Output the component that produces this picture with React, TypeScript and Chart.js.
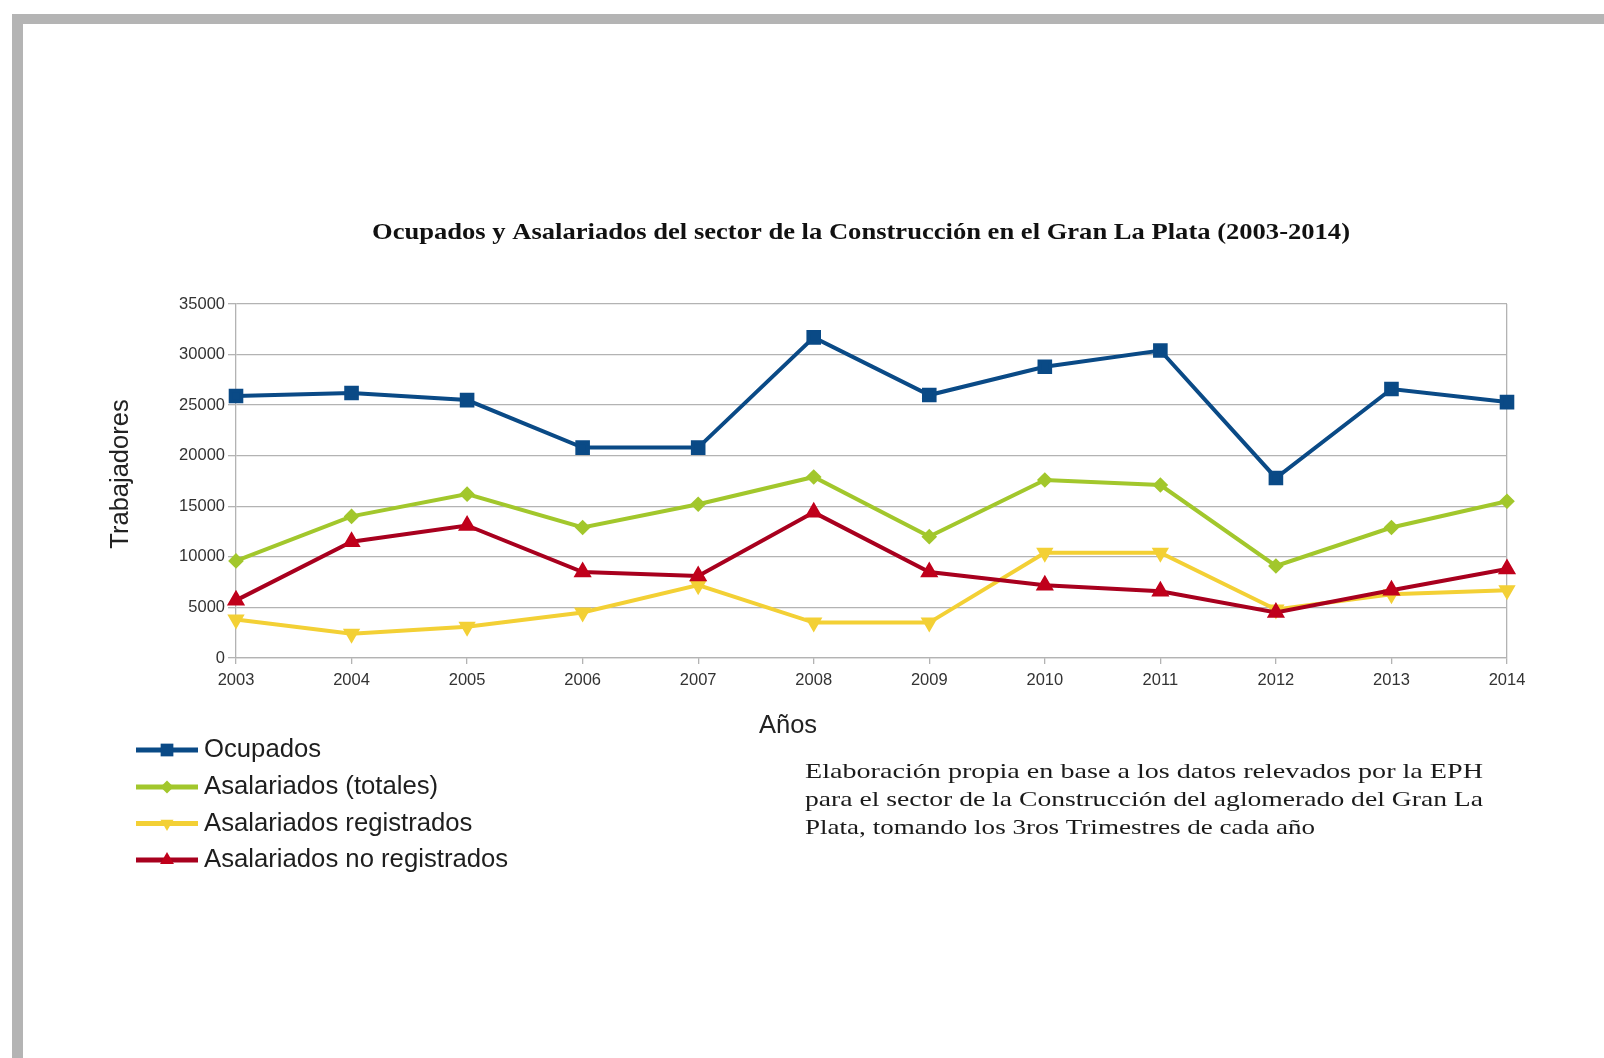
import { useEffect, useRef } from 'react';
import { Chart, registerables } from 'chart.js';

Chart.register(...registerables);

const years = ['2003', '2004', '2005', '2006', '2007', '2008', '2009', '2010', '2011', '2012', '2013', '2014'];
const ocupados = [25900, 26200, 25500, 20800, 20800, 31700, 26000, 28800, 30400, 17800, 26600, 25300];
const asalariadosTotales = [9600, 14000, 16200, 12900, 15200, 17900, 12000, 17600, 17100, 9100, 12900, 15500];
const asalariadosRegistrados = [3800, 2400, 3100, 4500, 7200, 3500, 3500, 10400, 10400, 4800, 6300, 6700];
const asalariadosNoRegistrados = [5700, 11500, 13100, 8500, 8100, 14400, 8500, 7200, 6600, 4500, 6700, 8800];
const seriesNames = ['Ocupados', 'Asalariados (totales)', 'Asalariados registrados', 'Asalariados no registrados'];
const yMin = 0;
const yMax = 35000;
const yStep = 5000;

const titleText = 'Ocupados y Asalariados del sector de la Construcción en el Gran La Plata (2003-2014)';
const xTitleText = 'Años';
const yTitleText = 'Trabajadores';
const noteLines = [
  'Elaboración propia en base a los datos relevados por la EPH',
  'para el sector de la Construcción del aglomerado del Gran La',
  'Plata, tomando los 3ros Trimestres de cada año',
];

const W = 1604;
const H = 1058;
const AREA = { left: 236, right: 1507, top: 304, bottom: 658 };
const Y_SCALE_W = 70;
const X_SCALE_H = 40;
const GRID = '#b3b3b3';
const TICK_FONT = { family: '"Liberation Sans", Arial, sans-serif', size: 16.5 };

function fitText(ctx: CanvasRenderingContext2D, text: string, x: number, y: number, width: number) {
  const w = ctx.measureText(text).width;
  const sx = width / w;
  ctx.save();
  ctx.translate(x, y);
  ctx.scale(sx, 1);
  ctx.textAlign = 'left';
  ctx.fillText(text, 0, 0);
  ctx.restore();
}

function drawMarker(ctx: CanvasRenderingContext2D, style: string, rot: number, x: number, y: number, r: number, color: string) {
  ctx.save();
  ctx.fillStyle = color;
  ctx.translate(x, y);
  ctx.rotate((rot * Math.PI) / 180);
  ctx.beginPath();
  if (style === 'rect') {
    const s = r * Math.SQRT1_2;
    ctx.rect(-s, -s, 2 * s, 2 * s);
  } else if (style === 'rectRot') {
    ctx.moveTo(0, -r);
    ctx.lineTo(r, 0);
    ctx.lineTo(0, r);
    ctx.lineTo(-r, 0);
    ctx.closePath();
  } else {
    ctx.moveTo(0, -r);
    ctx.lineTo(r * 0.866, r * 0.5);
    ctx.lineTo(-r * 0.866, r * 0.5);
    ctx.closePath();
  }
  ctx.fill();
  ctx.restore();
}

const decorPlugin = {
  id: 'decor',
  beforeDraw(chart: any) {
    const ctx = chart.ctx as CanvasRenderingContext2D;
    ctx.save();
    ctx.fillStyle = '#ffffff';
    ctx.fillRect(0, 0, W, H);
    ctx.fillStyle = '#b4b4b4';
    ctx.fillRect(12, 14, 11, H - 14);
    ctx.fillRect(12, 14, W - 12, 10);
    ctx.restore();
  },
  afterDraw(chart: any) {
    const ctx = chart.ctx as CanvasRenderingContext2D;
    ctx.save();
    // title
    ctx.fillStyle = '#111111';
    ctx.textBaseline = 'alphabetic';
    ctx.font = 'bold 24px "Liberation Serif", "Times New Roman", serif';
    fitText(ctx, titleText, 372, 239, 978);

    // axis titles
    ctx.fillStyle = '#222222';
    ctx.font = '25.5px "Liberation Sans", Arial, sans-serif';
    ctx.textAlign = 'center';
    ctx.fillText(xTitleText, 788, 733);
    ctx.save();
    ctx.translate(121, 474);
    ctx.rotate(-Math.PI / 2);
    ctx.textBaseline = 'middle';
    ctx.fillText(yTitleText, 0, 0);
    ctx.restore();

    // legend
    const baselines = [757, 794, 830.5, 867];
    chart.data.datasets.forEach((ds: any, i: number) => {
      const ly = baselines[i] - 7;
      ctx.strokeStyle = ds.borderColor;
      ctx.lineWidth = 5;
      ctx.beginPath();
      ctx.moveTo(136, ly);
      ctx.lineTo(198, ly);
      ctx.stroke();
      drawMarker(ctx, ds.pointStyle, ds.pointRotation || 0, 167, ly, ds.pointRadius + 1.5, ds.pointBackgroundColor);
      ctx.fillStyle = '#1e1e1e';
      ctx.textAlign = 'left';
      ctx.textBaseline = 'alphabetic';
      ctx.font = '25.7px "Liberation Sans", Arial, sans-serif';
      ctx.fillText(ds.label, 204, baselines[i]);
    });

    // note
    ctx.fillStyle = '#1a1a1a';
    ctx.font = '22px "Liberation Serif", "Times New Roman", serif';
    const noteBase = [777.5, 805.5, 834];
    const noteWidths = [678, 678, 510];
    noteLines.forEach((line, i) => fitText(ctx, line, 805, noteBase[i], noteWidths[i]));
    ctx.restore();
  },
};

export default function App() {
  const ref = useRef<HTMLCanvasElement | null>(null);

  useEffect(() => {
    const canvas = ref.current;
    if (!canvas) return;
    const chart = new Chart(canvas, {
      type: 'line',
      data: {
        labels: years,
        datasets: [
          {
            label: seriesNames[0],
            data: ocupados,
            borderColor: '#0a4a86',
            backgroundColor: '#0a4a86',
            pointBackgroundColor: '#0a4a86',
            pointBorderColor: '#0a4a86',
            pointStyle: 'rect',
            pointRadius: 7.5,
            borderWidth: 4,
            order: 0,
          },
          {
            label: seriesNames[1],
            data: asalariadosTotales,
            borderColor: '#a2c72c',
            backgroundColor: '#a2c72c',
            pointBackgroundColor: '#a2c72c',
            pointBorderColor: '#a2c72c',
            pointStyle: 'rectRot',
            pointRadius: 5,
            borderWidth: 4,
            order: 1,
          },
          {
            label: seriesNames[2],
            data: asalariadosRegistrados,
            borderColor: '#f3d035',
            backgroundColor: '#f3d035',
            pointBackgroundColor: '#f3d035',
            pointBorderColor: '#f3d035',
            pointStyle: 'triangle',
            pointRotation: 180,
            pointRadius: 6,
            borderWidth: 4,
            order: 3,
          },
          {
            label: seriesNames[3],
            data: asalariadosNoRegistrados,
            borderColor: '#a8001e',
            backgroundColor: '#c0001b',
            pointBackgroundColor: '#c0001b',
            pointBorderColor: '#c0001b',
            pointStyle: 'triangle',
            pointRadius: 6.5,
            borderWidth: 4,
            order: 2,
          },
        ] as any,
      },
      options: {
        responsive: false,
        animation: false,
        devicePixelRatio: 1,
        layout: {
          padding: {
            left: AREA.left - Y_SCALE_W,
            right: W - AREA.right,
            top: AREA.top,
            bottom: H - AREA.bottom - X_SCALE_H,
          },
        },
        elements: { line: { tension: 0 } },
        plugins: {
          legend: { display: false },
          title: { display: false },
          tooltip: { enabled: false },
        },
        scales: {
          x: {
            type: 'category',
            offset: false,
            afterFit: (s: any) => {
              s.height = X_SCALE_H;
            },
            grid: {
              color: (c: any) => (c.index === years.length - 1 ? GRID : 'rgba(0,0,0,0)'),
              tickColor: GRID,
              tickLength: 6,
              lineWidth: 1.3,
            },
            border: { color: GRID, width: 1.3 },
            ticks: {
              font: TICK_FONT,
              color: '#333333',
              padding: 7,
              maxRotation: 0,
              autoSkip: false,
            },
          },
          y: {
            min: yMin,
            max: yMax,
            afterFit: (s: any) => {
              s.width = Y_SCALE_W;
            },
            grid: { color: GRID, tickLength: 8, lineWidth: 1.3 },
            border: { color: GRID, width: 1.3 },
            ticks: {
              stepSize: yStep,
              font: TICK_FONT,
              color: '#333333',
              padding: 3,
              callback: (v: any) => String(v),
            },
          },
        },
      } as any,
      plugins: [decorPlugin],
    });
    return () => chart.destroy();
  }, []);

  return (
    <div style={{ position: 'absolute', left: 0, top: 0, width: W, height: H, background: '#fff' }}>
      <canvas ref={ref} width={W} height={H} style={{ display: 'block', width: W, height: H }} />
    </div>
  );
}
